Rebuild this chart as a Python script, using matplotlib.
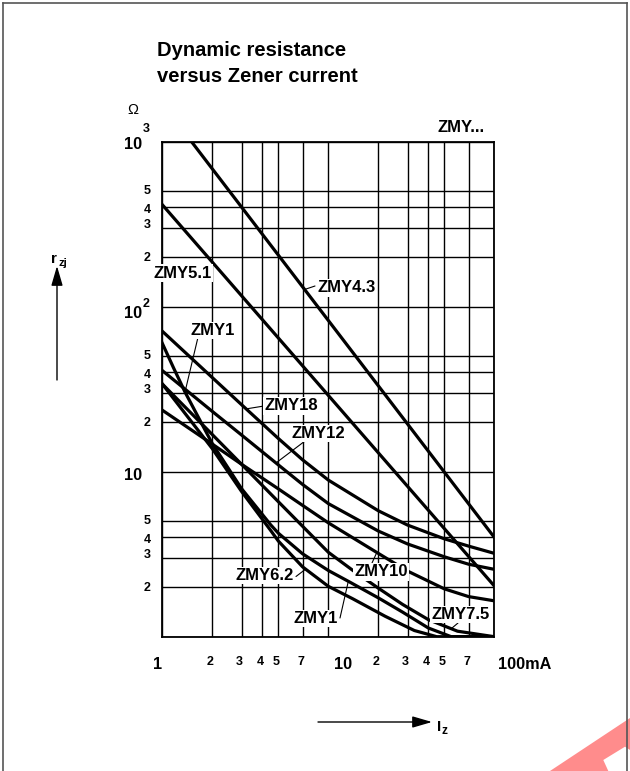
import numpy as np
import matplotlib
matplotlib.use('Agg')
import matplotlib.pyplot as plt
from matplotlib.patches import Polygon
from matplotlib.lines import Line2D

plt.rcParams['font.family'] = ['Liberation Sans', 'DejaVu Sans']

# Zener current (mA) / dynamic resistance (Ohm)
iz_43 = [1.5, 100]
rz_43 = [1000, 4.0]
iz_51 = [1, 100]
rz_51 = [415, 2.03]
iz_18 = [1, 2, 3, 5, 7, 10, 20, 30, 50, 70, 100]
rz_18 = [71, 37.2, 25.5, 15.9, 11.8, 8.9, 5.8, 4.75, 3.92, 3.54, 3.2]
iz_12 = [1, 2, 3, 5, 7, 10, 20, 30, 50, 70, 100]
rz_12 = [41, 23.2, 16.7, 11.0, 8.37, 6.41, 4.37, 3.65, 3.05, 2.75, 2.56]
iz_10 = [1, 2, 3, 5, 7, 10, 20, 30, 50, 70, 100]
rz_10 = [23.6, 14.7, 11.1, 7.87, 6.25, 4.9, 3.2, 2.5, 1.95, 1.75, 1.65]
iz_75 = [1, 2, 3, 5, 7, 10, 14, 20, 28, 40, 60, 100]
rz_75 = [34, 16.8, 11.1, 6.58, 4.67, 3.25, 2.53, 1.97, 1.57, 1.27, 1.08, 1.0]
iz_1 = [1, 1.17, 1.37, 2, 3, 4.5, 5, 7, 10, 13.5, 20, 28, 40, 55, 100]
rz_1 = [60, 42.5, 30.4, 14.8, 7.9, 4.76, 4.24, 3.18, 2.52, 2.14, 1.72, 1.41, 1.13, 1.0, 1.0]
iz_62 = [1, 2, 3, 4.5, 5, 7, 10, 14, 22, 33, 45, 100]
rz_62 = [34, 13.8, 7.6, 4.4, 3.8, 2.65, 2.02, 1.7, 1.33, 1.09, 1.0, 1.0]

x_major = [1, 10, 100]
x_minor = [2, 3, 4, 5, 7, 20, 30, 40, 50, 70]
y_major = [1, 10, 100, 1000]
y_minor = [2, 3, 4, 5, 20, 30, 40, 50, 200, 300, 400, 500]
x_tick_text = ['1', '2', '3', '4', '5', '7', '10', '2', '3', '4', '5', '7', '100mA']
x_tick_vals = [1, 2, 3, 4, 5, 7, 10, 20, 30, 40, 50, 70, 100]

W, H = 630, 771


def fx(px):
    return px / W


def fy(py):
    return 1 - py / H


def on_curve(xs, ys, x):
    return 10 ** np.interp(np.log10(x), np.log10(xs), np.log10(ys))


fig = plt.figure(figsize=(W / 100, H / 100), dpi=100)
ax = fig.add_axes([fx(162.3), fy(636.7), 332 / W, 495 / H])
ax.set_xscale('log')
ax.set_yscale('log')
ax.set_xlim(1, 100)
ax.set_ylim(1, 1000)
ax.set_xticks(x_major)
ax.set_xticks(x_minor, minor=True)
ax.set_yticks(y_major)
ax.set_yticks(y_minor, minor=True)
ax.tick_params(which='both', length=0, labelbottom=False, labelleft=False)
ax.grid(True, which='both', color='black', lw=1.0)
for s in ax.spines.values():
    s.set_linewidth(1.3)

curves = [(iz_43, rz_43), (iz_51, rz_51), (iz_18, rz_18), (iz_12, rz_12),
          (iz_10, rz_10), (iz_75, rz_75), (iz_1, rz_1), (iz_62, rz_62)]
for xs, ys in curves:
    ax.plot(xs, ys, color='black', lw=2.3, solid_joinstyle='round', zorder=3)

bold = dict(weight='bold', color='black')

# y axis labels
for v, txt, dy in [(1000, '10', 0), (100, '10', -4), (10, '10', -1)]:
    ax.annotate(txt, xy=(0, v), xycoords=('axes fraction', 'data'), xytext=(-29, dy - 3),
                textcoords='offset pixels', ha='center', va='center', size=11.7, **bold)
ax.annotate('3', xy=(0, 1000), xycoords=('axes fraction', 'data'), xytext=(-16, 13),
            textcoords='offset pixels', ha='center', va='center', size=9, **bold)
ax.annotate('2', xy=(0, 100), xycoords=('axes fraction', 'data'), xytext=(-16, 3),
            textcoords='offset pixels', ha='center', va='center', size=9, **bold)
nudge = {5: 0, 4: -3, 3: 3, 2: -1}
for dec in [1, 10, 100]:
    for m in [5, 4, 3, 2]:
        ax.annotate(str(m), xy=(0, m * dec), xycoords=('axes fraction', 'data'),
                    xytext=(-15, nudge[m]), textcoords='offset pixels',
                    ha='center', va='center', size=9, **bold)

# x axis labels
for v, txt in zip(x_tick_vals, x_tick_text):
    if txt == '100mA':
        ax.annotate(txt, xy=(v, 0), xycoords=('data', 'axes fraction'), xytext=(4, -28),
                    textcoords='offset pixels', ha='left', va='center', size=11.7, **bold)
    elif txt in ('1', '10'):
        dx = 15 if txt == '10' else -5
        ax.annotate(txt, xy=(v, 0), xycoords=('data', 'axes fraction'), xytext=(dx, -28),
                    textcoords='offset pixels', ha='center', va='center', size=11.7, **bold)
    else:
        ax.annotate(txt, xy=(v, 0), xycoords=('data', 'axes fraction'), xytext=(-2, -25),
                    textcoords='offset pixels', ha='center', va='center', size=9, **bold)

# title and units
fig.text(fx(157), fy(51), 'Dynamic resistance', size=14.5, ha='left', va='center', **bold)
fig.text(fx(157), fy(76), 'versus Zener current', size=14.5, ha='left', va='center', **bold)
fig.text(fx(133), fy(110), '\u03a9', size=10.5, ha='center', va='center')
fig.text(fx(438), fy(127), 'ZMY...', size=12, ha='left', va='center', **bold)

# curve labels
wbox = dict(facecolor='white', edgecolor='none', pad=1.0)
labels = [('ZMY5.1', 153.3, 273), ('ZMY4.3', 317, 288), ('ZMY1', 190.7, 330.5),
          ('ZMY18', 264.5, 406), ('ZMY12', 291.5, 433.5), ('ZMY6.2', 235, 575.5),
          ('ZMY10', 354.5, 572), ('ZMY1', 293.5, 618.5), ('ZMY7.5', 431.7, 614.5)]
for txt, px, py in labels:
    fig.text(fx(px), fy(py), txt, size=12, ha='left', va='center', bbox=wbox, zorder=5, **bold)

leaders = [(315, 286, iz_43, rz_43, 7.2), (197.7, 338.5, iz_1, rz_1, 1.37),
           (264, 406, iz_18, rz_18, 3.2), (305, 441, iz_12, rz_12, 4.84),
           (296, 576.5, iz_62, rz_62, 7.3), (372, 563, iz_10, rz_10, 19.6),
           (340, 618, iz_1, rz_1, 13.2), (458, 623, iz_75, rz_75, 55)]
for px, py, xs, ys, xt in leaders:
    ax.annotate('', xy=(xt, on_curve(xs, ys, xt)), xycoords='data',
                xytext=(fx(px), fy(py)), textcoords='figure fraction',
                arrowprops=dict(arrowstyle='-', color='black', lw=0.8, shrinkA=0, shrinkB=0),
                zorder=6)

# axis quantity arrows
arrow = dict(arrowstyle='-|>,head_length=1.2,head_width=0.35', mutation_scale=10,
             color='black', lw=1.0, shrinkA=0, shrinkB=0)
ax.annotate('', xy=(fx(57), fy(266)), xytext=(fx(57), fy(380)), xycoords='figure fraction',
            textcoords='figure fraction', arrowprops=arrow)
fig.text(fx(51), fy(259), 'r', size=11, ha='left', va='center', **bold)
fig.text(fx(58.5), fy(263), 'zj', size=8, ha='left', va='center', **bold)
ax.annotate('', xy=(fx(432), fy(722)), xytext=(fx(318), fy(722)), xycoords='figure fraction',
            textcoords='figure fraction', arrowprops=arrow)
fig.text(fx(437), fy(727), 'I', size=11, ha='left', va='center', **bold)
fig.text(fx(442), fy(731), 'z', size=8.5, ha='left', va='center', **bold)

# page frame and corner stamp
for xs, ys in [([3, 3], [3, 771]), ([3, 627], [3, 3]), ([627, 627], [3, 771])]:
    fig.add_artist(Line2D([fx(v) for v in xs], [fy(v) for v in ys], color='#555555', lw=1.2))
fig.add_artist(Polygon([(fx(550), fy(771)), (fx(630), fy(718)), (fx(630), fy(771))],
                       closed=True, facecolor='#ff8c8c', edgecolor='none'))
fig.add_artist(Polygon([(fx(603.3), fy(760)), (fx(625), fy(746.7)), (fx(630), fy(750)),
                        (fx(630), fy(771)), (fx(608.3), fy(771))],
                       closed=True, facecolor='white', edgecolor='none'))

fig.savefig('out.png', dpi=100, facecolor='white')
